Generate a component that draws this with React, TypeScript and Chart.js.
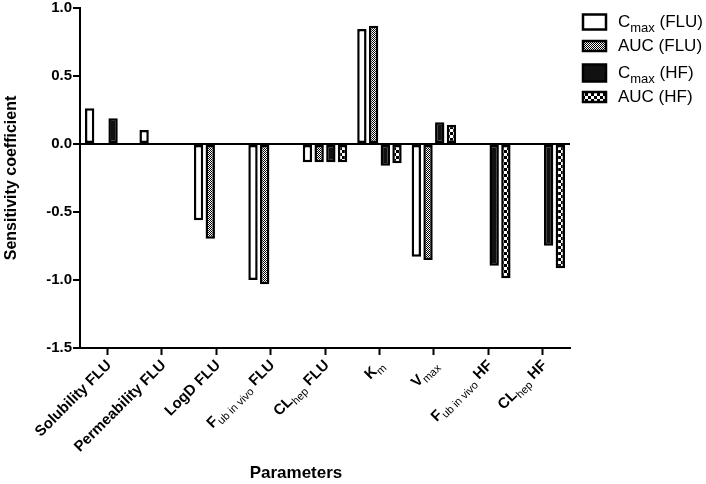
import React, { useEffect, useRef } from 'react';
import { Chart, registerables } from 'chart.js';

Chart.register(...registerables);

type Part = { t: string; sub?: boolean };

// категории (с подстрочными индексами)
const parameters: Part[][] = [
    [{ t: 'Solubility FLU' }],
    [{ t: 'Permeability FLU' }],
    [{ t: 'LogD FLU' }],
    [{ t: 'F' }, { t: 'ub in vivo', sub: true }, { t: ' FLU' }],
    [{ t: 'CL' }, { t: 'hep', sub: true }, { t: ' FLU' }],
    [{ t: 'K' }, { t: 'm', sub: true }],
    [{ t: 'V' }, { t: 'max', sub: true }],
    [{ t: 'F' }, { t: 'ub in vivo', sub: true }, { t: ' HF' }],
    [{ t: 'CL' }, { t: 'hep', sub: true }, { t: ' HF' }],
];

const seriesNames: Part[][] = [
    [{ t: 'C' }, { t: 'max', sub: true }, { t: ' (FLU)' }],
    [{ t: 'AUC (FLU)' }],
    [{ t: 'C' }, { t: 'max', sub: true }, { t: ' (HF)' }],
    [{ t: 'AUC (HF)' }],
];

const cmaxFlu = [0.262, 0.103, -0.561, -1.0, -0.135, 0.846, -0.829, null, null];
const aucFlu = [null, null, -0.696, -1.032, -0.135, 0.87, -0.853, null, null];
const cmaxHf = [0.189, null, null, null, -0.135, -0.16, 0.16, -0.895, -0.748];
const aucHf = [null, null, null, null, -0.135, -0.142, 0.142, -0.988, -0.914];

const yTicks = [-1.5, -1.0, -0.5, 0.0, 0.5, 1.0];

const FONT = 'Arial, "Liberation Sans", sans-serif';

function makePattern(cell: number): CanvasPattern | string {
    const c = document.createElement('canvas');
    c.width = cell * 2;
    c.height = cell * 2;
    const g = c.getContext('2d');
    if (!g) return '#777';
    g.fillStyle = '#fff';
    g.fillRect(0, 0, cell * 2, cell * 2);
    g.fillStyle = '#000';
    g.fillRect(0, 0, cell, cell);
    g.fillRect(cell, cell, cell, cell);
    return g.createPattern(c, 'repeat') || '#777';
}

function drawParts(ctx: CanvasRenderingContext2D, parts: Part[], x: number, y: number, main: string, sub: string, shift: number, align: 'left' | 'right') {
    const widths = parts.map(p => {
        ctx.font = p.sub ? sub : main;
        return ctx.measureText(p.t).width;
    });
    const total = widths.reduce((a, b) => a + b, 0);
    let cx = align === 'right' ? x - total : x;
    ctx.textAlign = 'left';
    ctx.textBaseline = 'middle';
    parts.forEach((p, i) => {
        ctx.font = p.sub ? sub : main;
        ctx.fillText(p.t, cx, p.sub ? y + shift : y);
        cx += widths[i];
    });
}

const App: React.FC = () => {
    const chartRef = useRef<HTMLCanvasElement>(null);
    const chartInstanceRef = useRef<Chart | null>(null);

    useEffect(() => {
        document.body.style.margin = '0';
        if (!chartRef.current) return;
        const ctx = chartRef.current.getContext('2d');
        if (!ctx) return;

        if (chartInstanceRef.current) {
            chartInstanceRef.current.destroy();
        }

        const fine = makePattern(1);
        const coarse = makePattern(3);
        const fills = ['#ffffff', fine, '#111111', coarse];
        const values = [cmaxFlu, aucFlu, cmaxHf, aucHf];

        // подписи оси X, название оси и легенда рисуются вручную (индексы)
        const customText = {
            id: 'customText',
            afterDraw(chart: any) {
                const c: CanvasRenderingContext2D = chart.ctx;
                const xs = chart.scales.x;
                c.save();
                c.fillStyle = '#000';
                parameters.forEach((parts, i) => {
                    const px = xs.getPixelForValue(i);
                    c.save();
                    c.translate(px + 2, 363);
                    c.rotate(-Math.PI / 4);
                    drawParts(c, parts, 0, 0, `bold 15px ${FONT}`, `11px ${FONT}`, 5, 'right');
                    c.restore();
                });

                c.font = `bold 17px ${FONT}`;
                c.textAlign = 'center';
                c.textBaseline = 'middle';
                c.fillText('Parameters', 296, 473);

                // легенда
                const rowY = [22, 46, 73, 97];
                const boxH = [15, 10, 17, 10];
                seriesNames.forEach((parts, i) => {
                    const top = rowY[i] - boxH[i] / 2;
                    c.fillStyle = fills[i] as any;
                    c.fillRect(583, top, 23, boxH[i]);
                    c.strokeStyle = '#000';
                    c.lineWidth = 2.5;
                    c.strokeRect(583, top, 23, boxH[i]);
                    c.fillStyle = '#000';
                    drawParts(c, parts, 618, rowY[i], `17px ${FONT}`, `13px ${FONT}`, 6, 'left');
                });
                c.restore();
            },
        };

        chartInstanceRef.current = new Chart(ctx, {
            type: 'bar',
            data: {
                labels: parameters.map(p => p.map(q => q.t).join('')),
                datasets: seriesNames.map((s, i) => ({
                    label: s.map(q => q.t).join(''),
                    data: values[i],
                    backgroundColor: fills[i] as any,
                    borderColor: '#000',
                    borderWidth: 2.5,
                    borderSkipped: false,
                    categoryPercentage: 0.86,
                    barPercentage: 0.8,
                })),
            },
            options: {
                animation: false,
                responsive: true,
                maintainAspectRatio: false,
                layout: { padding: { left: 0, right: 136, top: 8, bottom: 0 } },
                scales: {
                    x: {
                        afterFit: (s: any) => {
                            s.height = 136;
                            s.paddingLeft = 0;
                            s.paddingRight = 0;
                        },
                        ticks: { display: false },
                        grid: {
                            offset: false,
                            drawOnChartArea: false,
                            drawTicks: true,
                            tickLength: 7,
                            tickWidth: 2,
                            tickColor: '#000',
                        },
                        border: { color: '#000', width: 2 },
                    },
                    y: {
                        min: -1.5,
                        max: 1.0,
                        afterFit: (s: any) => {
                            s.width = 80;
                            s.paddingTop = 0;
                            s.paddingBottom = 0;
                        },
                        afterBuildTicks: (s: any) => {
                            s.ticks = yTicks.map(v => ({ value: v }));
                        },
                        ticks: {
                            padding: 1,
                            color: '#000',
                            font: { family: FONT, size: 15, weight: 'bold' },
                            callback: (v: any) => Number(v).toFixed(1),
                        },
                        grid: {
                            color: (c: any) => (c.tick && c.tick.value === 0 ? '#000' : 'rgba(0,0,0,0)'),
                            lineWidth: 2,
                            drawTicks: true,
                            tickLength: 7,
                            tickWidth: 2,
                            tickColor: '#000',
                        },
                        border: { color: '#000', width: 2 },
                        title: {
                            display: true,
                            text: 'Sensitivity coefficient',
                            color: '#000',
                            font: { family: FONT, size: 16, weight: 'bold' },
                            padding: { top: 2, bottom: 0 },
                        },
                    },
                },
                plugins: {
                    legend: { display: false },
                    tooltip: { enabled: false },
                },
            },
            plugins: [customText],
        });

        return () => {
            if (chartInstanceRef.current) {
                chartInstanceRef.current.destroy();
                chartInstanceRef.current = null;
            }
        };
    }, []);

    return (
        <div style={{ position: 'relative', width: 706, height: 484 }}>
            <canvas ref={chartRef} />
        </div>
    );
};

export default App;
